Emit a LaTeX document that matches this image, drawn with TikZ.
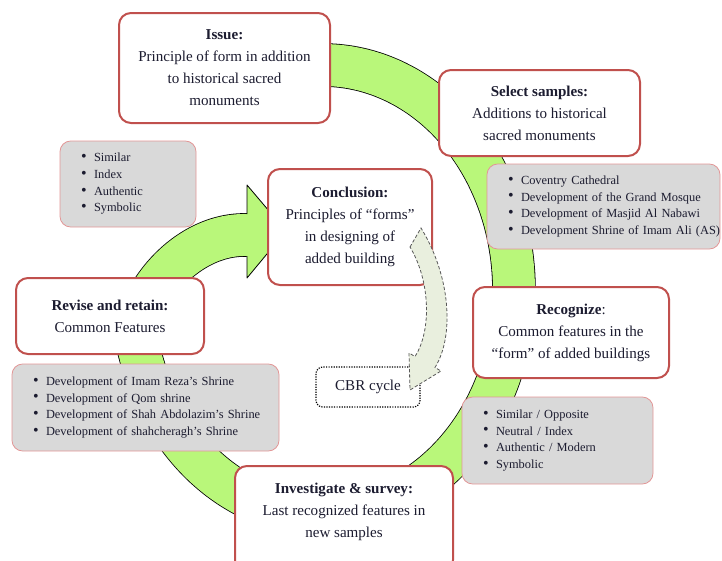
\documentclass[tikz,border=0pt]{standalone}
\usepackage{fontspec}
\setmainfont{Liberation Serif}
\definecolor{boxred}{RGB}{192,80,77}
\definecolor{listgray}{RGB}{217,217,217}
\definecolor{listedge}{RGB}{226,150,150}
\definecolor{bandgreen}{RGB}{185,247,122}
\definecolor{cbrfill}{RGB}{233,239,222}
\definecolor{ink}{RGB}{28,28,48}
\newcommand{\itm}[1]{\mbox{\makebox[9.75pt][l]{\raisebox{0.2pt}{\large\textbullet}}#1}}
\tikzset{
  stage/.style={draw=boxred, line width=1.5pt, rounded corners=9pt, fill=white, text=ink,
    align=center, inner sep=2pt, font=\fontsize{11.3}{16.5}\selectfont},
  itemlist/.style={draw=listedge, line width=0.6pt, rounded corners=8pt, fill=listgray, text=ink,
    align=left, inner xsep=15.75pt, inner ysep=0pt, font=\fontsize{9.3}{12.5}\selectfont},
  band/.style={draw=black, line width=0.6pt, double=bandgreen, double distance=31.5pt, line join=round},
  cbrarrow/.style={fill=cbrfill, draw=black!65, line width=0.6pt, dash pattern=on 2.5pt off 1.5pt}
}
\begin{document}
\begin{tikzpicture}[x=0.75pt, y=-0.75pt]
  \useasboundingbox (0,0) rectangle (722,561);
  \clip (0,0) rectangle (722,561);
  \coordinate (hub) at (323,290);
  \coordinate (tail) at (247,235);
  \coordinate (tip) at (286,231);
  \draw[band] plot[smooth, domain=-105:165, samples=60] ({323+191*cos(\x)},{290+225*sin(\x)})
    .. controls (127,309) and (180,233) .. (tail);
  \fill[bandgreen] (247,185) -- (tip) -- (247,278) -- cycle;
  \draw[line width=0.6pt, line join=round] (247,214) -- (247,185) -- (tip) -- (247,278) -- (247,256);
  \node[stage, minimum width=158.25pt, minimum height=82.5pt] (issue) at (224.5,68)
    {\textbf{Issue:}\\Principle of form in addition\\to historical sacred\\monuments};
  \node[stage, minimum width=150.75pt, minimum height=64.5pt] (select) at (539.5,113)
    {\textbf{Select samples:}\\Additions to historical\\sacred monuments};
  \node[itemlist, minimum width=174.75pt, minimum height=63.75pt, text width=143.25pt] (samples) at (603.5,206.5)
    {\itm{Coventry Cathedral}\\\itm{Development of the Grand Mosque}\\\itm{Development of Masjid Al Nabawi}\\\itm{Development Shrine of Imam Ali (AS)}};
  \node[itemlist, minimum width=102pt, minimum height=64.5pt, text width=70.5pt] (similar) at (128,184)
    {\itm{Similar}\\\itm{Index}\\\itm{Authentic}\\\itm{Symbolic}};
  \node[stage, minimum width=123pt, minimum height=87pt] (concl) at (350,227)
    {\textbf{Conclusion:}\\Principles of “forms”\\in designing of\\added building};
  \node[stage, minimum width=141pt, minimum height=57pt] (revise) at (110,316)
    {\textbf{Revise and retain:}\\Common Features};
  \node[itemlist, minimum width=200.25pt, minimum height=65.25pt, text width=168.75pt] (revlist) at (145.5,407.5)
    {\itm{Development of Imam Reza’s Shrine}\\\itm{Development of Qom shrine}\\\itm{Development of Shah Abdolazim’s Shrine}\\\itm{Development of shahcheragh’s Shrine}};
  \node[stage, minimum width=147pt, minimum height=68.25pt] (recog) at (571,332.5)
    {\textbf{Recognize}:\\Common features in the\\“form” of added buildings};
  \node[itemlist, minimum width=143.25pt, minimum height=65.25pt, text width=111.75pt] (reclist) at (557.5,440.5)
    {\itm{Similar / Opposite}\\\itm{Neutral / Index}\\\itm{Authentic / Modern}\\\itm{Symbolic}};
  \node[stage, minimum width=163.5pt, minimum height=79.5pt, text depth=13pt] (invest) at (344,519)
    {\textbf{Investigate \& survey:}\\Last recognized features in\\new samples};
  \node[draw, densely dotted, line width=0.9pt, rounded corners=5pt, fill=white, text=ink,
    minimum width=78pt, minimum height=30pt, font=\fontsize{11.3}{13}\selectfont] (cbr) at (368,387) {CBR cycle};
  \draw[cbrarrow] (410,247) -- (421,228) .. controls (450,275) and (455,335) .. (435,367.5)
    -- (441,371) -- (410,390) -- (409,353) -- (415,356.5) .. controls (432,330) and (430,280) .. (410,247) -- cycle;
\end{tikzpicture}
\end{document}
